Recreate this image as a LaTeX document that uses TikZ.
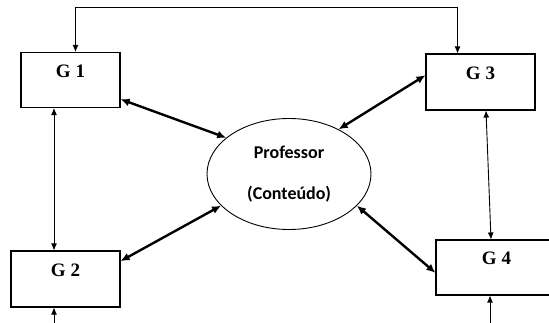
\documentclass[tikz,border=0pt]{standalone}
\usepackage{fontspec}
\setmainfont{Liberation Serif}
\newfontfamily\profsans{Carlito}
\usetikzlibrary{shapes.geometric,arrows.meta}
\tikzset{
  groupbox/.style={draw,line width=1.1pt,rectangle,minimum height=55pt,inner sep=0pt,font=\fontsize{19}{22}\selectfont\bfseries,text height=13pt,text depth=18pt},
  teacher/.style={draw,line width=0.9pt,ellipse,minimum width=164pt,minimum height=111pt,inner sep=0pt,align=center,font=\profsans\fontsize{18}{22}\selectfont\bfseries},
  thinarrow/.style={line width=0.9pt,{Latex[length=7pt,width=6pt]}-{Latex[length=7pt,width=6pt]}},
  inarrow/.style={line width=0.9pt,-{Latex[length=7pt,width=6pt]}},
  thickarrow/.style={line width=2.4pt,{Latex[length=9pt,width=8pt]}-{Latex[length=9pt,width=8pt]}}
}
\begin{document}
\begin{tikzpicture}[x=1pt,y=-1pt]
  \useasboundingbox (0,0) rectangle (549,323);
  % the four groups
  \node[groupbox,minimum width=99pt] (g1) at (70.5,80) {G 1};
  \node[groupbox,minimum width=109pt,minimum height=56pt] (g2) at (65.5,279) {G 2};
  \node[groupbox,minimum width=109pt,minimum height=56pt] (g3) at (480.5,82) {G 3};
  \node[groupbox,minimum width=121pt] (g4) at (496.5,267.5) {G 4};
  % the teacher in the middle
  \node[teacher] (prof) at (289,174) {Professor\\[19pt](Conteúdo)};
  \coordinate (loop) at (260,7.7);
  \coordinate (g2in) at (54,330);
  \coordinate (g4in) at (490,330);
  % thick links to the teacher
  \draw[thickarrow] (g1.-21) -- (prof.150);
  \draw[thickarrow] (g3.173) -- (prof.42);
  \draw[thickarrow] (g2.18) -- (prof.205);
  \draw[thickarrow] (g4.185) -- (prof.-25);
  % thin links between groups
  \draw[thinarrow] ([xshift=5pt]g1.north) |- (loop) -| ([xshift=-23pt]g3.north);
  \draw[thinarrow] ([xshift=-16.5pt]g1.south) -- ([xshift=-11.5pt]g2.north);
  \draw[thinarrow] ([xshift=5.5pt]g3.south) -- ([xshift=-5.5pt]g4.north);
  \draw[inarrow] (g2in) -- (g2in |- g2.south);
  \draw[inarrow] (g4in) -- (g4in |- g4.south);
\end{tikzpicture}
\end{document}
